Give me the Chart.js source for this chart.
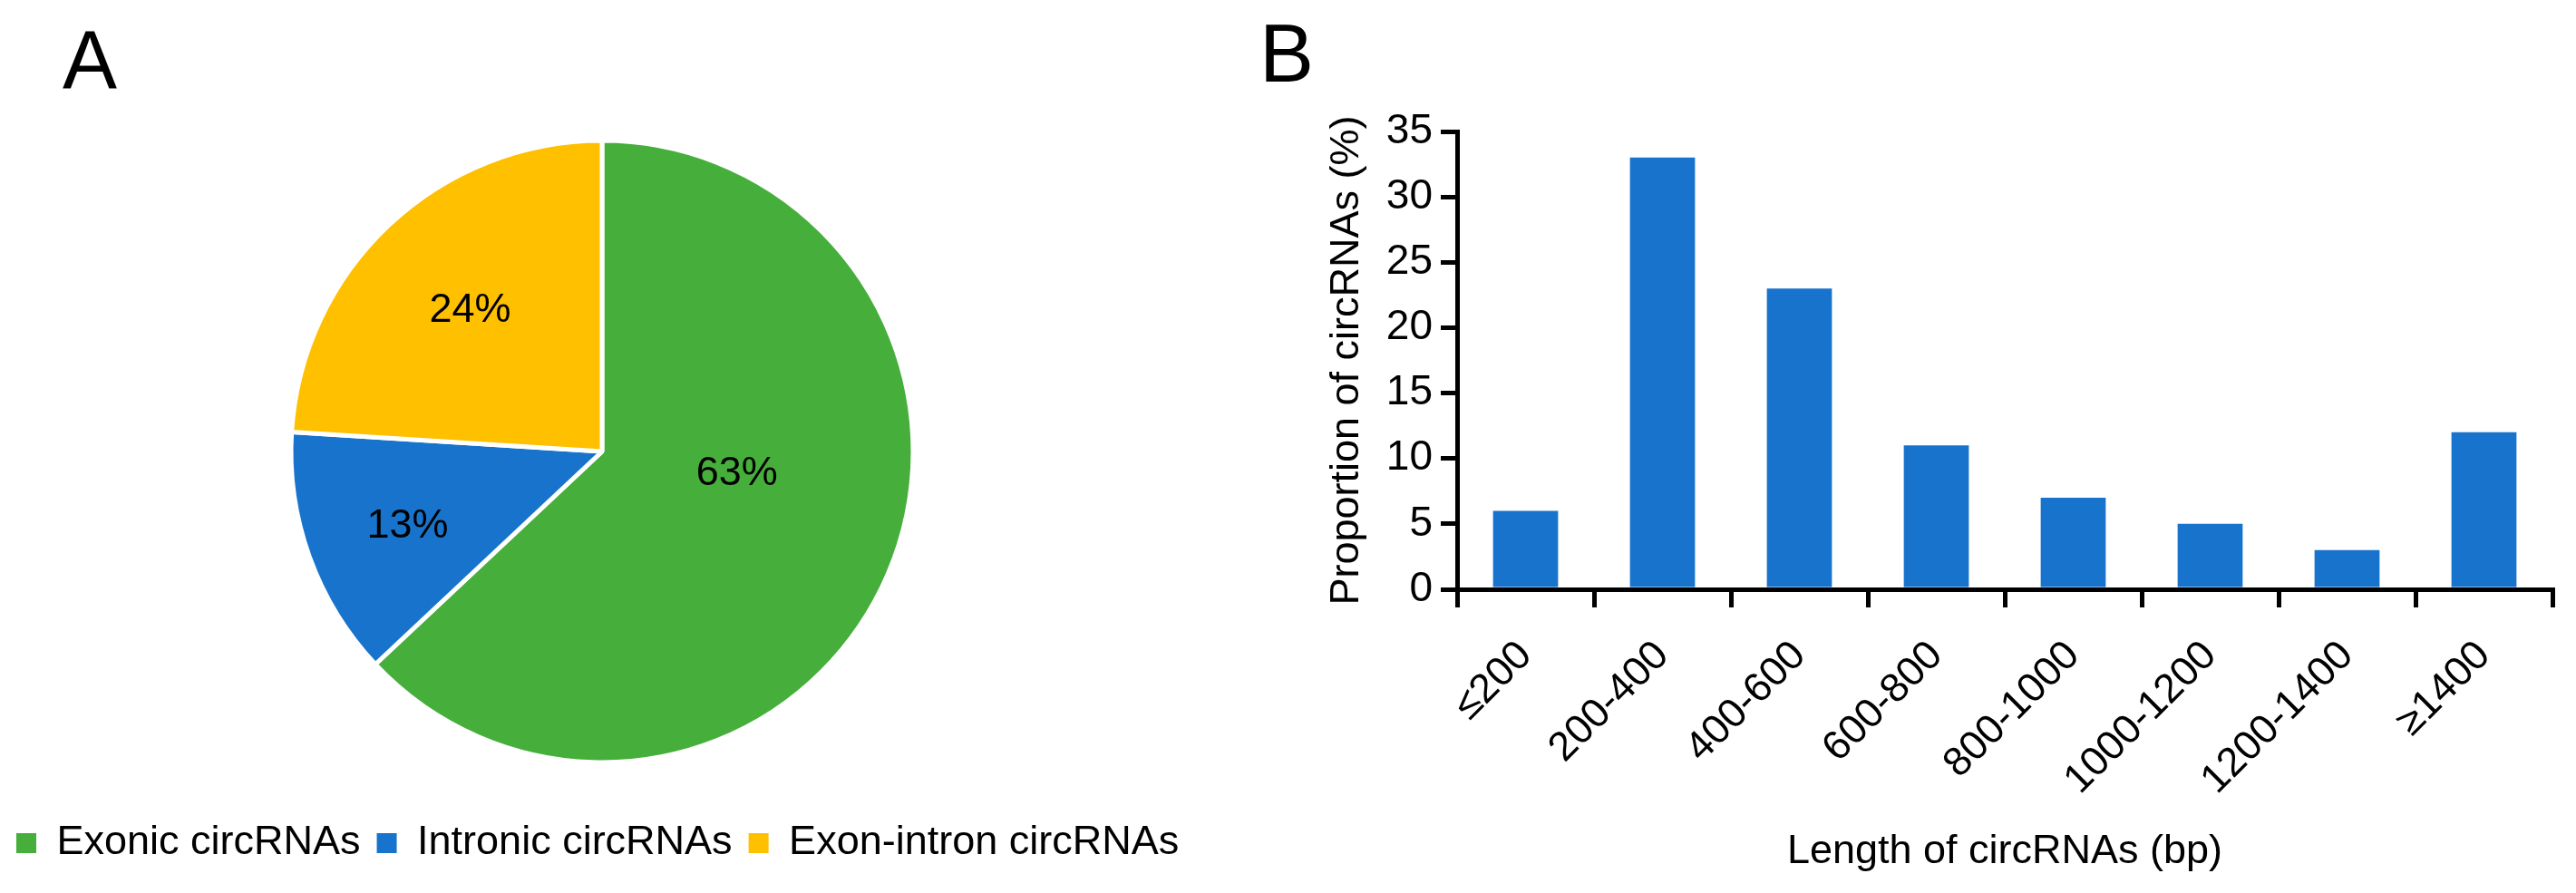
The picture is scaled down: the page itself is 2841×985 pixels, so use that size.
<!DOCTYPE html>
<html>
<head>
<meta charset="utf-8">
<script src="https://cdn.jsdelivr.net/npm/chart.js@4.4.1/dist/chart.umd.min.js"></script>
<style>
  html, body { margin: 0; padding: 0; background: #fff; }
  body { width: 2841px; height: 985px; position: relative; overflow: hidden; font-family: "Liberation Sans", Arial, sans-serif; }
  canvas { position: absolute; top: 0; }
  #pie { left: 0; }
  #bar { left: 1330px; }
  .panel { position: absolute; font-size: 90px; line-height: 90px; color: #000; font-family: "Liberation Sans", Arial, sans-serif; }
</style>
</head>
<body>
<div class="panel" id="lblA" style="left:69px; top:21px;">A</div>
<div class="panel" id="lblB" style="left:1389px; top:14px;">B</div>
<canvas id="pie" width="1328" height="985"></canvas>
<canvas id="bar" width="1511" height="985"></canvas>
<script>
// ---- Data ----
const pieLabels = ['Exonic circRNAs', 'Intronic circRNAs', 'Exon-intron circRNAs'];
const pieValues = [63, 13, 24];
const pieColors = ['#46AF3B', '#1873CC', '#FFC000'];

const lengthBins = ['≤200', '200-400', '400-600', '600-800', '800-1000', '1000-1200', '1200-1400', '≥1400'];
const proportions = [6, 33, 23, 11, 7, 5, 3, 12];
const yMin = 0, yMax = 35, yStep = 5;

const xTitle = 'Length of circRNAs (bp)';
const yTitle = 'Proportion of circRNAs (%)';

// ---- Styles ----
const FONT = '"Liberation Sans", Arial, sans-serif';
// label placement inside each slice: fraction of radius and angular offset (deg)
const pieLabelPlacement = [{ r: 0.44, da: -13.9 }, { r: 0.67, da: -1.3 }, { r: 0.62, da: 0 }];

const pieLabelPlugin = {
  id: 'pieLabels',
  afterDatasetsDraw(chart) {
    const ctx = chart.ctx;
    const meta = chart.getDatasetMeta(0);
    ctx.save();
    ctx.font = '45px ' + FONT;
    ctx.fillStyle = '#000';
    ctx.textAlign = 'center';
    ctx.textBaseline = 'middle';
    meta.data.forEach((arc, i) => {
      const p = arc.getProps(['x', 'y', 'startAngle', 'endAngle', 'outerRadius'], true);
      const pl = pieLabelPlacement[i];
      const a = (p.startAngle + p.endAngle) / 2 + pl.da * Math.PI / 180;
      const r = p.outerRadius * pl.r;
      const v = chart.data.datasets[0].data[i];
      ctx.fillText(v + '%', p.x + Math.cos(a) * r, p.y + Math.sin(a) * r);
    });
    ctx.restore();
  }
};

new Chart(document.getElementById('pie'), {
  type: 'pie',
  data: {
    labels: pieLabels,
    datasets: [{
      data: pieValues,
      backgroundColor: pieColors,
      borderColor: '#ffffff',
      borderWidth: 5,
      radius: 343
    }]
  },
  options: {
    responsive: false,
    animation: false,
    devicePixelRatio: 1,
    radius: 343,
    layout: { padding: { top: 106.5, bottom: 22.5, left: 0, right: 0 } },
    plugins: {
      tooltip: { enabled: false },
      legend: {
        position: 'bottom',
        align: 'start',
        labels: {
          font: { size: 45, family: FONT },
          color: '#000',
          boxWidth: 22,
          boxHeight: 22,
          padding: 18,
          generateLabels(chart) {
            const items = Chart.overrides.pie.plugins.legend.labels.generateLabels(chart);
            return items.map(it => Object.assign(it, { lineWidth: 0, strokeStyle: 'rgba(0,0,0,0)' }));
          }
        }
      }
    }
  },
  plugins: [pieLabelPlugin]
});

new Chart(document.getElementById('bar'), {
  type: 'bar',
  data: {
    labels: lengthBins,
    datasets: [{
      data: proportions,
      backgroundColor: '#1873CC',
      borderWidth: 0,
      categoryPercentage: 1.0,
      barPercentage: 0.475
    }]
  },
  options: {
    responsive: false,
    animation: false,
    devicePixelRatio: 1,
    layout: { padding: { top: 145, right: 26, bottom: 0, left: 0 } },
    plugins: { legend: { display: false }, tooltip: { enabled: false } },
    scales: {
      x: {
        offset: true,
        grid: { display: true, drawOnChartArea: false, drawTicks: true, tickLength: 20, lineWidth: 5, color: '#000', offset: true },
        border: { display: true, color: '#000', width: 5 },
        ticks: { font: { size: 45, family: FONT }, color: '#000', minRotation: 45, maxRotation: 45, autoSkip: false, padding: 27 },
        title: { display: true, text: xTitle, font: { size: 45, family: FONT }, color: '#000', padding: { top: 0, bottom: 18 } },
        afterFit(scale) { scale.height = 335; }
      },
      y: {
        min: yMin,
        max: yMax,
        grid: { display: true, drawOnChartArea: false, drawTicks: true, tickLength: 18, lineWidth: 5, color: '#000' },
        border: { display: true, color: '#000', width: 5 },
        ticks: { stepSize: yStep, font: { size: 46, family: FONT }, color: '#000', padding: 9 },
        title: { display: true, text: yTitle, font: { size: 45, family: FONT }, color: '#000', padding: { top: 129, bottom: 0 } },
        afterFit(scale) { scale.width = 277; }
      }
    }
  }
});
</script>
</body>
</html>
